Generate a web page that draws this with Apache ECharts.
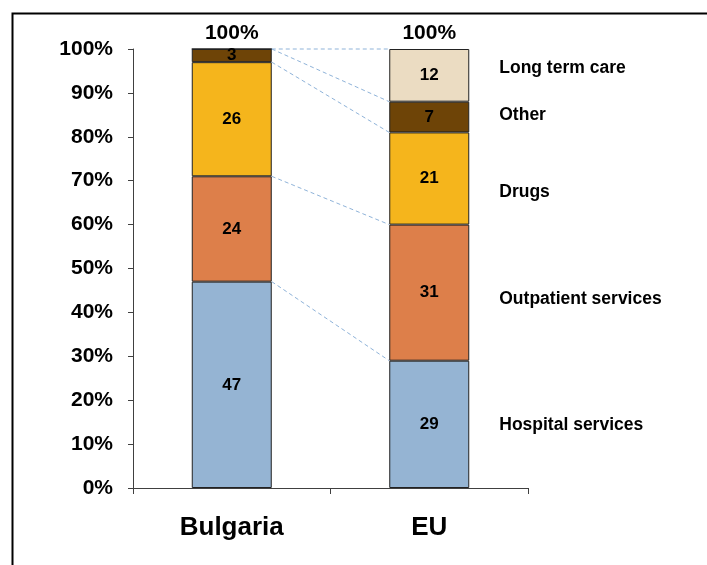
<!DOCTYPE html>
<html>
<head>
<meta charset="utf-8">
<script src="https://cdn.jsdelivr.net/npm/echarts@6/dist/echarts.min.js"></script>
<style>
html,body{margin:0;padding:0;background:#fff;}
#chart{width:707px;height:565px;}
</style>
</head>
<body>
<div id="chart"></div>
<script>
var categories = ['Bulgaria', 'EU'];
var seriesNames = ['Hospital services', 'Outpatient services', 'Drugs', 'Other', 'Long term care'];
var hospital = [47, 29];
var outpatient = [24, 31];
var drugs = [26, 21];
var other = [3, 7];
var longTermCare = [0, 12];
var yTicks = [0, 10, 20, 30, 40, 50, 60, 70, 80, 90, 100];

var colors = ['#95b4d3', '#dd7f4a', '#f5b51c', '#6e4407', '#ebdcc2'];
var allSeries = [hospital, outpatient, drugs, other, longTermCare];
var FONT = 'Arial, "Liberation Sans", sans-serif';
var BAR_W = 80;

// cumulative boundaries
var cum = allSeries.map(function () { return [0, 0]; });
for (var c = 0; c < categories.length; c++) {
  var s = 0;
  for (var k = 0; k < allSeries.length; k++) {
    s += allSeries[k][c];
    cum[k][c] = s;
  }
}
var totals = categories.map(function (_, c) { return cum[allSeries.length - 1][c]; });

var barSeries = allSeries.map(function (arr, k) {
  return {
    name: seriesNames[k],
    type: 'bar',
    stack: 'total',
    barWidth: BAR_W,
    data: arr,
    itemStyle: { color: colors[k], borderColor: '#222', borderWidth: 1 },
    label: {
      show: true,
      position: 'inside',
      color: '#000',
      fontFamily: FONT,
      fontWeight: 'bold',
      fontSize: 17,
      formatter: function (p) { return p.value ? String(p.value) : ''; }
    },
    z: 3
  };
});

// dashed connectors between segment boundaries
var connectorData = cum.map(function (b) { return [0, b[0], 1, b[1]]; });
var connectors = {
  type: 'custom',
  data: connectorData,
  encode: { x: [0, 2], y: [1, 3] },
  silent: true,
  z: 2,
  renderItem: function (params, api) {
    var p1 = api.coord([api.value(0), api.value(1)]);
    var p2 = api.coord([api.value(2), api.value(3)]);
    return {
      type: 'line',
      shape: { x1: p1[0] + BAR_W / 2, y1: p1[1], x2: p2[0] - BAR_W / 2, y2: p2[1] },
      style: { stroke: '#8fb3d9', lineWidth: 1, lineDash: [4, 3] }
    };
  }
};

// total labels above bars
var totalSeries = {
  type: 'custom',
  data: totals.map(function (t, i) { return [i, t]; }),
  encode: { x: 0, y: 1 },
  silent: true,
  renderItem: function (params, api) {
    var p = api.coord([api.value(0), api.value(1)]);
    return {
      type: 'text',
      style: {
        x: p[0], y: p[1] - 5, text: api.value(1) + '%',
        textAlign: 'center', textVerticalAlign: 'bottom',
        font: 'bold 21px ' + FONT, fill: '#000'
      }
    };
  }
};

// legend-like labels to the right of the EU bar
var labelShift = [1, 7, 14, -2, -7];
var sideData = seriesNames.map(function (n, k) {
  var lo = k === 0 ? 0 : cum[k - 1][1];
  return [1, (lo + cum[k][1]) / 2, k];
});
var sideSeries = {
  type: 'custom',
  data: sideData,
  encode: { x: 0, y: 1 },
  silent: true,
  renderItem: function (params, api) {
    var k = api.value(2);
    var p = api.coord([api.value(0), api.value(1)]);
    return {
      type: 'text',
      style: {
        x: p[0] + BAR_W / 2 + 30, y: p[1] + labelShift[k], text: seriesNames[k],
        textAlign: 'left', textVerticalAlign: 'middle',
        font: 'bold 17.5px ' + FONT, fill: '#000'
      }
    };
  }
};

var chart = echarts.init(document.getElementById('chart'), null, { renderer: 'canvas' });
chart.setOption({
  backgroundColor: '#fff',
  animation: false,
  graphic: [{
    type: 'rect', left: 10, top: 11,
    shape: { width: 800, height: 700 },
    style: { fill: 'none', stroke: '#000', lineWidth: 2 },
    silent: true, z: 100
  }],
  grid: { left: 133, right: 179, top: 49, bottom: 77 },
  xAxis: {
    type: 'category',
    data: categories,
    boundaryGap: true,
    axisLine: { lineStyle: { color: '#404040', width: 1 } },
    axisTick: { show: true, alignWithLabel: false, length: 6, lineStyle: { color: '#404040' } },
    axisLabel: { color: '#000', fontFamily: FONT, fontWeight: 'bold', fontSize: 26, margin: 27 }
  },
  yAxis: {
    type: 'value',
    min: yTicks[0],
    max: yTicks[yTicks.length - 1],
    interval: yTicks[1] - yTicks[0],
    axisLine: { show: true, lineStyle: { color: '#404040', width: 1 } },
    axisTick: { show: true, inside: false, length: 5, lineStyle: { color: '#404040' } },
    splitLine: { show: false },
    axisLabel: { color: '#000', fontFamily: FONT, fontWeight: 'bold', fontSize: 21, margin: 20, formatter: '{value}%' }
  },
  series: barSeries.concat([connectors, totalSeries, sideSeries])
});
</script>
</body>
</html>
